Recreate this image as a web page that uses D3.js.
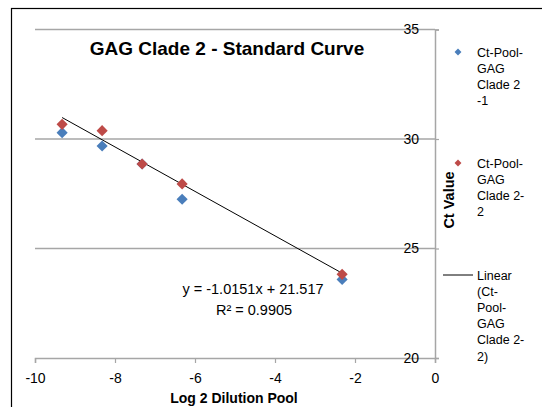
<!DOCTYPE html>
<html lang='en'>
  <head>
    <meta charset='utf-8'>
    <title>GAG Clade 2 - Standard Curve</title>
    <script type='text/javascript' src='https://cdn.jsdelivr.net/npm/d3@7'></script>
    <style>
      body { margin: 0; background: #fff; }
      text { font-family: 'Liberation Sans', Arial, sans-serif; }
    </style>
  </head>
  <body>
    <script type='text/javascript'>

      // log2 of the dilution factors
      var dilutions = [-9.3219, -8.3219, -7.3219, -6.3219, -2.3219];
      var ctPool1 = [30.29, 29.68, 28.86, 27.25, 23.59];
      var ctPool2 = [30.67, 30.38, 28.86, 27.95, 23.82];
      var xTicks = [-10, -8, -6, -4, -2, 0];
      var yTicks = [20, 25, 30, 35];
      // linear trendline on series 2
      var slope = -1.0151;
      var intercept = 21.517;
      var rSquared = 0.9905;
      var legend1 = ['Ct-Pool-', 'GAG', 'Clade 2', '-1'];
      var legend2 = ['Ct-Pool-', 'GAG', 'Clade 2-', '2'];
      var legend3 = ['Linear', '(Ct-', 'Pool-', 'GAG', 'Clade 2-', '2)'];

      var w = 542;
      var h = 407;
      var blue = '#4a7ebb';
      var red = '#be4b48';
      var grid = '#a6a6a6';
      var font = "'Liberation Sans', Arial, sans-serif";

      var svg = d3.select('body')
                  .append('svg')
                  .attr('width', w)
                  .attr('height', h);

      // outer chart frame (runs off the picture at right and bottom)
      svg.append('rect')
         .attr('x', 11.5).attr('y', 8.5)
         .attr('width', w + 20).attr('height', h + 20)
         .attr('fill', 'none')
         .attr('stroke', '#000')
         .attr('stroke-width', 1.2);

      var xScale = d3.scaleLinear().domain([-10, 0]).range([35, 435]);
      var yScale = d3.scaleLinear().domain([20, 35]).range([358, 29.5]);

      // horizontal gridlines
      svg.selectAll('line.grid')
         .data(yTicks.slice(1))
         .enter()
         .append('line')
         .attr('class', 'grid')
         .attr('x1', xScale(-10)).attr('x2', xScale(0))
         .attr('y1', function(d){ return yScale(d); })
         .attr('y2', function(d){ return yScale(d); })
         .attr('stroke', grid)
         .attr('stroke-width', 1.5);

      // x axis
      var xAxis = svg.append('g')
         .attr('transform', 'translate(0,' + yScale(20) + ')')
         .call(d3.axisBottom(xScale).tickValues(xTicks).tickSize(5).tickPadding(10)
                 .tickFormat(function(d){ return String(d); }));
      xAxis.select('.domain').attr('stroke', grid).attr('stroke-width', 1.5);
      xAxis.selectAll('.tick line').attr('stroke', grid).attr('stroke-width', 1.2);
      xAxis.selectAll('.tick text')
           .attr('font-family', font)
           .attr('font-size', '14px').attr('fill', '#000');

      // y axis sits at x = 0, labels on its left over the gridlines
      var yAxis = svg.append('g')
         .attr('transform', 'translate(' + xScale(0) + ',0)')
         .call(d3.axisRight(yScale).tickValues(yTicks).tickSize(4)
                 .tickFormat(function(d){ return String(d); }));
      yAxis.select('.domain').attr('stroke', grid).attr('stroke-width', 1.5);
      yAxis.selectAll('.tick line').attr('stroke', grid).attr('stroke-width', 1.2);
      yAxis.selectAll('.tick text')
           .attr('x', -16)
           .attr('text-anchor', 'end')
           .attr('font-family', font)
           .attr('font-size', '14px').attr('fill', '#000');

      // trendline
      var xMin = d3.min(dilutions), xMax = d3.max(dilutions);
      svg.append('line')
         .attr('x1', xScale(xMin)).attr('y1', yScale(slope * xMin + intercept))
         .attr('x2', xScale(xMax)).attr('y2', yScale(slope * xMax + intercept))
         .attr('stroke', '#000')
         .attr('stroke-width', 1);

      var diamond = d3.symbol().type(d3.symbolSquare).size(62);

      function drawSeries(values, color){
        svg.append('g')
           .selectAll('path')
           .data(values)
           .enter()
           .append('path')
           .attr('d', diamond)
           .attr('transform', function(d, i){
             return 'translate(' + xScale(dilutions[i]) + ',' + yScale(d) + ') rotate(45)';
           })
           .attr('fill', color);
      }
      drawSeries(ctPool1, blue);
      drawSeries(ctPool2, red);

      // title
      svg.append('text')
         .attr('x', 227).attr('y', 55)
         .attr('text-anchor', 'middle')
         .attr('font-size', '19px')
         .attr('font-weight', 'bold')
         .text('GAG Clade 2 - Standard Curve');

      // equation
      svg.append('text')
         .attr('x', 253).attr('y', 294)
         .attr('text-anchor', 'middle')
         .attr('font-size', '14.5px')
         .text('y = ' + slope + 'x + ' + intercept);
      svg.append('text')
         .attr('x', 254).attr('y', 315)
         .attr('text-anchor', 'middle')
         .attr('font-size', '14.5px')
         .text('R² = ' + rSquared);

      // axis titles
      svg.append('text')
         .attr('x', 234).attr('y', 403)
         .attr('text-anchor', 'middle')
         .attr('font-size', '14px')
         .attr('font-weight', 'bold')
         .text('Log 2 Dilution Pool');
      svg.append('text')
         .attr('transform', 'translate(454,200) rotate(-90)')
         .attr('text-anchor', 'middle')
         .attr('font-size', '14.5px')
         .attr('font-weight', 'bold')
         .text('Ct Value');

      // legend
      function legendText(lines, y0){
        svg.append('g')
           .selectAll('text')
           .data(lines)
           .enter()
           .append('text')
           .attr('x', 477)
           .attr('y', function(d, i){ return y0 + i * 16.2 + 4.5; })
           .attr('font-size', '12.5px')
           .text(function(d){ return d; });
      }
      var legendMark = d3.symbol().type(d3.symbolSquare).size(24);
      svg.append('path').attr('d', legendMark)
         .attr('transform', 'translate(458,52) rotate(45)').attr('fill', blue);
      legendText(legend1, 52);
      svg.append('path').attr('d', legendMark)
         .attr('transform', 'translate(458,163) rotate(45)').attr('fill', red);
      legendText(legend2, 163);
      svg.append('line')
         .attr('x1', 443).attr('x2', 473).attr('y1', 275).attr('y2', 275)
         .attr('stroke', '#000').attr('stroke-width', 1);
      legendText(legend3, 275);

    </script>
  </body>
</html>
